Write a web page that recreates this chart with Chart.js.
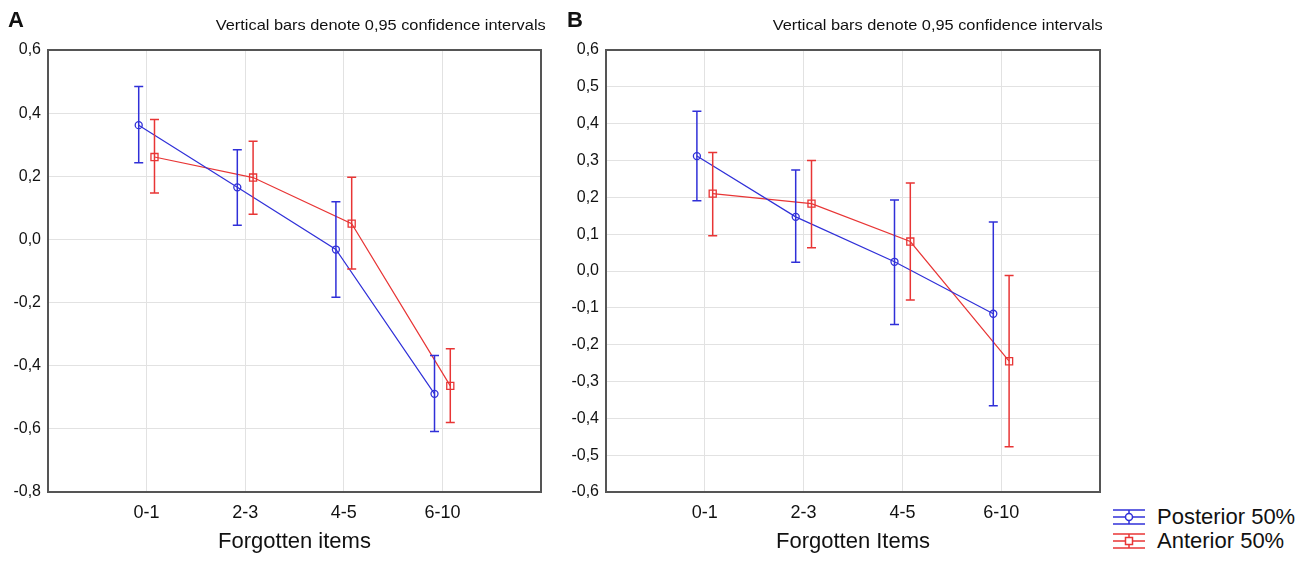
<!DOCTYPE html>
<html>
<head>
<meta charset="utf-8">
<script src="https://cdn.jsdelivr.net/npm/chart.js@4.4.1/dist/chart.umd.min.js"></script>
<style>
  body { margin: 0; background: #fff; font-family: "Liberation Sans", Arial, sans-serif; }
  #wrap { position: relative; width: 1300px; height: 562px; overflow: hidden; }
  .panel { position: absolute; top: 0; height: 562px; }
  .letter { position: absolute; top: 7px; font-weight: bold; font-size: 22px; color: #111; }
  .note { position: absolute; top: 16px; font-size: 15px; color: #111; text-align: right; white-space: nowrap;
          transform: scaleX(1.09); transform-origin: right center; }
  .legend { position: absolute; left: 1111px; font-size: 22px; color: #111; white-space: nowrap; }
  .legend svg { position: absolute; left: 0; top: 0; }
  .legend span { position: absolute; left: 46px; top: 0; line-height: 24px; }
</style>
</head>
<body>
<div id="wrap">
  <div class="panel" style="left:0;width:555px"><canvas id="chartA"></canvas></div>
  <div class="panel" style="left:560px;width:550px"><canvas id="chartB"></canvas></div>
  <div class="letter" style="left:8px">A</div>
  <div class="letter" style="left:567px">B</div>
  <div class="note" style="right:754px">Vertical bars denote 0,95 confidence intervals</div>
  <div class="note" style="right:197px">Vertical bars denote 0,95 confidence intervals</div>
  <div class="legend" style="top:505px">
    <svg width="36" height="24"><g stroke="#3030d8" stroke-width="1.5" fill="none">
      <line x1="2" y1="5" x2="34" y2="5"/><line x1="2" y1="12" x2="34" y2="12"/><line x1="2" y1="19" x2="34" y2="19"/>
      <line x1="18" y1="5" x2="18" y2="19"/><circle cx="18" cy="12" r="3.5" fill="#fff"/></g></svg>
    <span>Posterior 50%</span>
  </div>
  <div class="legend" style="top:529px">
    <svg width="36" height="24"><g stroke="#e83535" stroke-width="1.5" fill="none">
      <line x1="2" y1="5" x2="34" y2="5"/><line x1="2" y1="12" x2="34" y2="12"/><line x1="2" y1="19" x2="34" y2="19"/>
      <line x1="18" y1="5" x2="18" y2="19"/><rect x="14.5" y="8.5" width="7" height="7" fill="#fff"/></g></svg>
    <span>Anterior 50%</span>
  </div>
</div>
<script>
const categories = ['0-1', '2-3', '4-5', '6-10'];

// Panel A
const postA = [0.362, 0.165, -0.032, -0.489];
const postA_lo = [0.243, 0.045, -0.183, -0.608];
const postA_hi = [0.484, 0.284, 0.119, -0.368];
const antA = [0.261, 0.196, 0.050, -0.464];
const antA_lo = [0.147, 0.080, -0.094, -0.580];
const antA_hi = [0.380, 0.311, 0.197, -0.346];

// Panel B
const postB = [0.312, 0.147, 0.025, -0.116];
const postB_lo = [0.191, 0.024, -0.145, -0.366];
const postB_hi = [0.434, 0.274, 0.193, 0.133];
const antB = [0.210, 0.183, 0.080, -0.245];
const antB_lo = [0.096, 0.063, -0.079, -0.477];
const antB_hi = [0.322, 0.300, 0.239, -0.012];

const blue = '#3030d8';
const red = '#e83535';
const shift = 0.08;

function points(vals, off){
    return vals.map(function(v, i){ return {x: i + off, y: v}; });
}

// draws the confidence interval whiskers and the frame
const errorBars = {
    id: 'errorBars',
    afterDatasetsDraw(chart){
        const ctx = chart.ctx;
        const ys = chart.scales.y;
        chart.data.datasets.forEach(function(ds, d){
            const meta = chart.getDatasetMeta(d);
            ctx.save();
            ctx.strokeStyle = ds.borderColor;
            ctx.lineWidth = 1.5;
            meta.data.forEach(function(pt, i){
                const x = pt.x;
                const y1 = ys.getPixelForValue(ds.lo[i]);
                const y2 = ys.getPixelForValue(ds.hi[i]);
                ctx.beginPath();
                ctx.moveTo(x, y1); ctx.lineTo(x, y2);
                ctx.moveTo(x - 4.5, y1); ctx.lineTo(x + 4.5, y1);
                ctx.moveTo(x - 4.5, y2); ctx.lineTo(x + 4.5, y2);
                ctx.stroke();
            });
            ctx.restore();
        });
    },
    afterDraw(chart){
        const a = chart.chartArea;
        const ctx = chart.ctx;
        ctx.save();
        ctx.strokeStyle = '#555';
        ctx.lineWidth = 2;
        ctx.strokeRect(a.left, a.top, a.right - a.left, a.bottom - a.top);
        ctx.restore();
    }
};

function makeChart(id, post, pLo, pHi, ant, aLo, aHi, yMin, yMax, yStep, yWidth, padRight, xTitle){
    const cfg = {
        type: 'line',
        data: {
            datasets: [{
                label: 'Posterior 50%',
                data: points(post, -shift),
                lo: pLo, hi: pHi,
                borderColor: blue,
                borderWidth: 1.2,
                pointStyle: 'circle',
                pointRadius: 3.5,
                pointBorderWidth: 1.3,
                pointBackgroundColor: 'rgba(255,255,255,0)',
                pointBorderColor: blue,
                tension: 0
            }, {
                label: 'Anterior 50%',
                data: points(ant, shift),
                lo: aLo, hi: aHi,
                borderColor: red,
                borderWidth: 1.2,
                pointStyle: 'rect',
                pointRadius: 5,
                pointBorderWidth: 1.3,
                pointBackgroundColor: 'rgba(255,255,255,0)',
                pointBorderColor: red,
                tension: 0
            }]
        },
        options: {
            responsive: false,
            animation: false,
            devicePixelRatio: 1,
            layout: { padding: { left: 0, right: padRight, top: 50, bottom: 0 } },
            plugins: { legend: { display: false }, tooltip: { enabled: false } },
            scales: {
                x: {
                    type: 'linear',
                    min: -1, max: 4,
                    border: { display: false },
                    afterFit: function(s){ s.height = 70; },
                    grid: {
                        drawTicks: false,
                        color: function(c){ return (c.tick && c.tick.value >= 0 && c.tick.value <= 3) ? '#e2e2e2' : 'rgba(0,0,0,0)'; }
                    },
                    ticks: {
                        stepSize: 1,
                        padding: 10,
                        color: '#111',
                        font: { family: 'Liberation Sans', size: 18 },
                        callback: function(v){ return categories[v] !== undefined ? categories[v] : ''; }
                    },
                    title: {
                        display: true,
                        text: xTitle,
                        color: '#111',
                        font: { family: 'Liberation Sans', size: 22 },
                        padding: { top: 0, bottom: 7 }
                    }
                },
                y: {
                    min: yMin, max: yMax,
                    border: { display: false },
                    afterFit: function(s){ s.width = yWidth; },
                    grid: { drawTicks: false, color: '#e2e2e2' },
                    ticks: {
                        stepSize: yStep,
                        padding: 7,
                        color: '#111',
                        font: { family: 'Liberation Sans', size: 16 },
                        callback: function(v){ return (Math.round(v * 10) / 10).toFixed(1).replace('.', ','); }
                    }
                }
            }
        },
        plugins: [errorBars]
    };
    const cv = document.getElementById(id);
    return new Chart(cv, cfg);
}

const cA = document.getElementById('chartA');
cA.width = 555; cA.height = 562;
const cB = document.getElementById('chartB');
cB.width = 550; cB.height = 562;

makeChart('chartA', postA, postA_lo, postA_hi, antA, antA_lo, antA_hi, -0.8, 0.6, 0.2, 48, 14, 'Forgotten items');
makeChart('chartB', postB, postB_lo, postB_hi, antB, antB_lo, antB_hi, -0.6, 0.6, 0.1, 46, 9, 'Forgotten Items');
</script>
</body>
</html>
